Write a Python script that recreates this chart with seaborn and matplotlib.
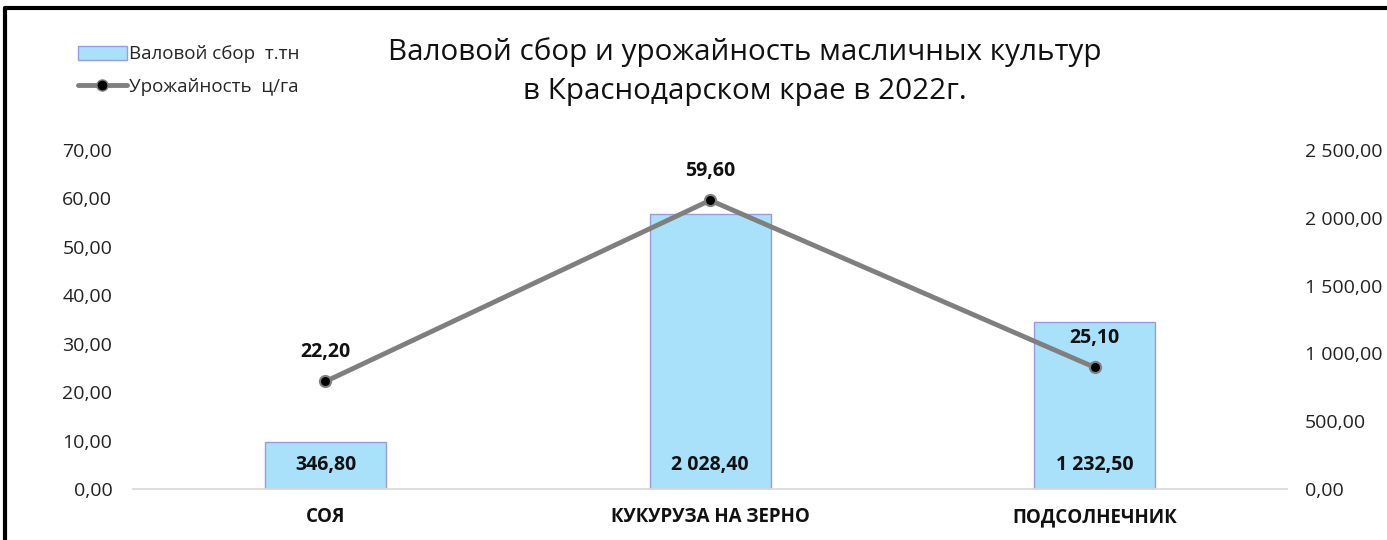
import numpy as np
import seaborn as sns
import matplotlib.pyplot as plt
import pandas as pd
from matplotlib.lines import Line2D
from matplotlib.patches import Patch

# данные
cultures = ['СОЯ', 'КУКУРУЗА НА ЗЕРНО', 'ПОДСОЛНЕЧНИК']
harvest = [346.80, 2028.40, 1232.50]      # валовой сбор, т.тн (правая ось)
yield_cha = [22.20, 59.60, 25.10]         # урожайность, ц/га (левая ось)
left_ticks = [0, 10, 20, 30, 40, 50, 60, 70]
right_ticks = [0, 500, 1000, 1500, 2000, 2500]


def fmt(v):
    s = f"{v:,.2f}"
    return s.replace(',', ' ').replace('.', ',')


sns.set_theme(style='white')
plt.rcParams['font.family'] = ['Open Sans', 'DejaVu Sans']

df = pd.DataFrame({'culture': cultures, 'harvest': harvest, 'yield': yield_cha})

fig = plt.figure(figsize=(13.87, 5.4), dpi=100)
ax1 = fig.add_axes([0.096, 0.0944, 0.832, 0.628])
ax2 = ax1.twinx()

# столбцы на правой оси
sns.barplot(data=df, x='culture', y='harvest', ax=ax2, color='#A9E1FA',
            edgecolor='#9A9AE0', linewidth=1, width=0.315, saturation=1)
ax2.set_ylim(0, 2500)
ax2.set_yticks(right_ticks)
ax2.set_yticklabels([fmt(t) for t in right_ticks], fontsize=14)
for p, v in zip(ax2.patches, harvest):
    ax2.text(p.get_x() + p.get_width() / 2, 175, fmt(v), ha='center', va='center',
             fontsize=14, fontweight='bold', color='#111111')

# линия на левой оси
ax1.set_zorder(ax2.get_zorder() + 1)
ax1.patch.set_visible(False)
sns.lineplot(data=df, x='culture', y='yield', ax=ax1, color='#7F7F7F', linewidth=3.5,
             marker='o', markersize=8, markerfacecolor='black', markeredgecolor='#7F7F7F',
             markeredgewidth=1.5, sort=False)
for i, v in enumerate(yield_cha):
    ax1.text(i, v + 4, fmt(v), ha='center', va='bottom', fontsize=14,
             fontweight='bold', color='#111111')
ax1.set_ylim(0, 70)
ax1.set_xlim(-0.5, 2.5)
ax1.set_yticks(left_ticks)
ax1.set_yticklabels([fmt(t) for t in left_ticks], fontsize=14)
ax1.set_xticks(range(3))
ax1.set_xticklabels(cultures, fontsize=13.5, fontweight='bold')
ax1.set_xlabel('')
ax1.set_ylabel('')
ax2.set_ylabel('')

for ax in (ax1, ax2):
    for side in ('top', 'left', 'right'):
        ax.spines[side].set_visible(False)
    ax.spines['bottom'].set_color('#D9D9D9')
    ax.tick_params(axis='y', length=0, pad=15, colors='#222222')
    ax.tick_params(axis='x', length=0, pad=13, colors='#111111')
ax2.tick_params(axis='y', pad=13)
ax2.spines['bottom'].set_visible(False)

fig.text(0.537, 0.867, 'Валовой сбор и урожайность масличных культур\nв Краснодарском крае в 2022г.',
         ha='center', va='center', fontsize=21.3, linespacing=1.45, color='#111111')

handles = [Patch(facecolor='#A9E1FA', edgecolor='#9A9AE0', label='Валовой сбор  т.тн'),
           Line2D([0], [0], color='#7F7F7F', linewidth=3.5, marker='o', markersize=8,
                  markerfacecolor='black', markeredgecolor='#7F7F7F', label='Урожайность  ц/га')]
fig.legend(handles=handles, loc='upper left', bbox_to_anchor=(0.044, 0.947), frameon=False,
           fontsize=13.5, handlelength=2.6, handleheight=0.8, handletextpad=0.1,
           labelspacing=0.75)

# рамка
fig.add_artist(Line2D([0.0036, 1.0], [0.985, 0.985], color='black', linewidth=3, transform=fig.transFigure))
fig.add_artist(Line2D([0.0036, 0.0036], [0.0, 0.985], color='black', linewidth=3, transform=fig.transFigure))

fig.savefig('out.png', dpi=100)
